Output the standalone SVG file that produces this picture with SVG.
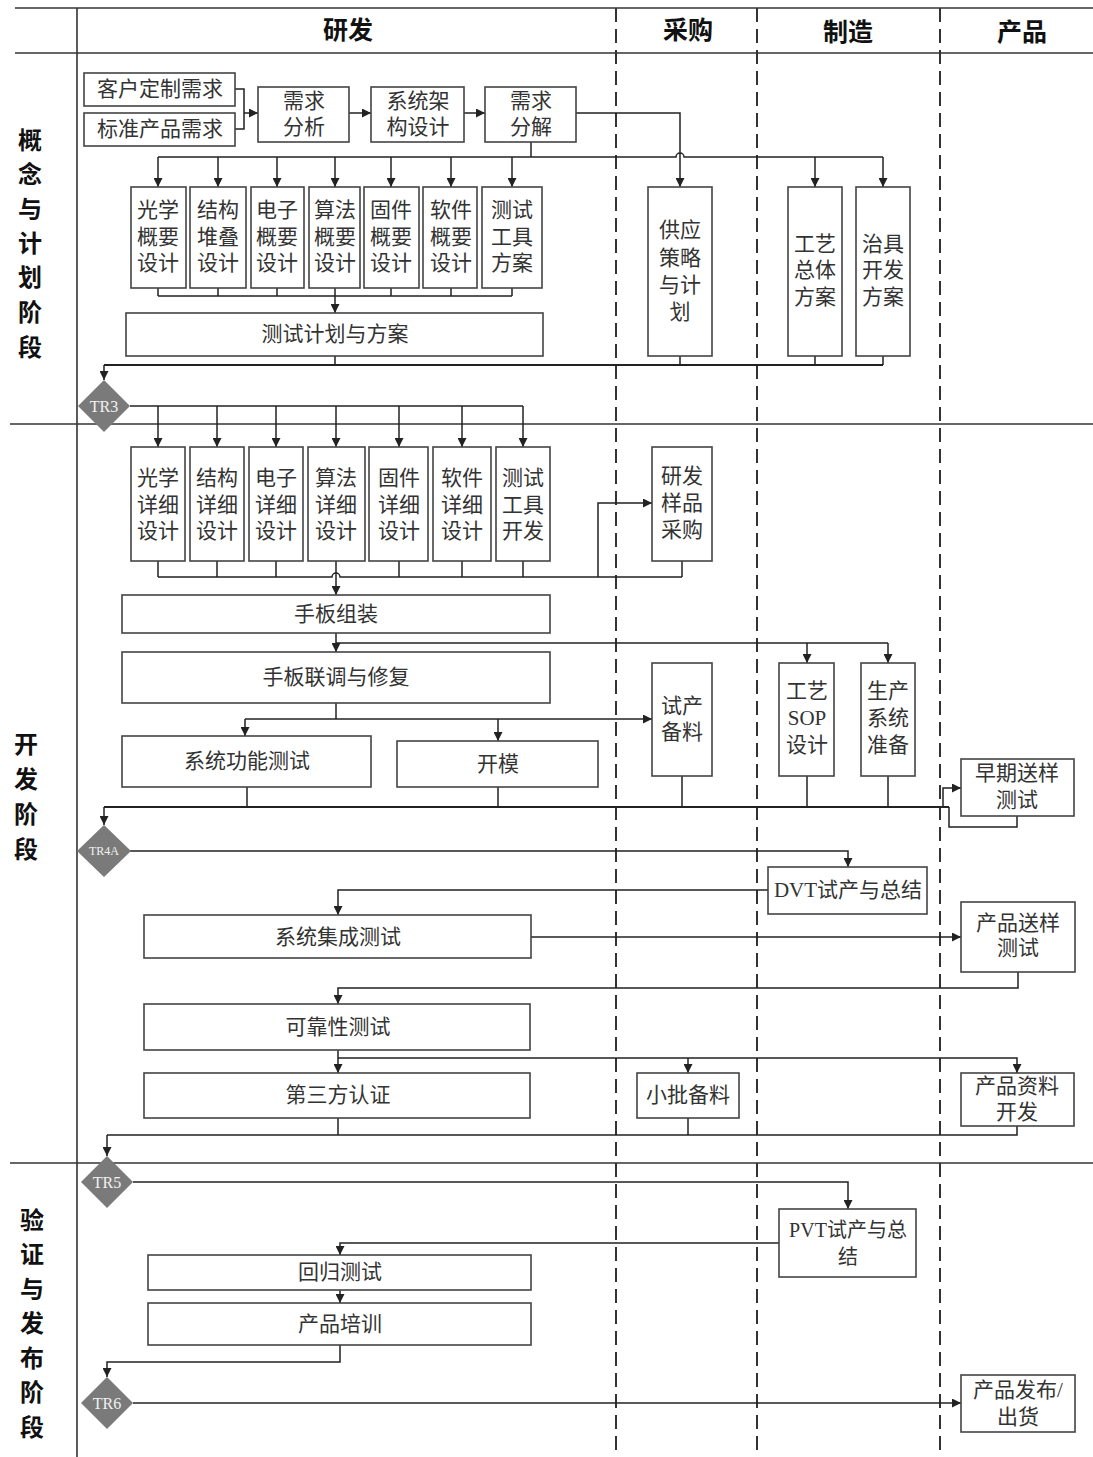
<svg xmlns="http://www.w3.org/2000/svg" width="1093" height="1457" viewBox="0 0 1093 1457">
<defs>
<marker id="ah" markerUnits="userSpaceOnUse" markerWidth="9" markerHeight="9" refX="9" refY="4.5" orient="auto">
<path d="M0,0 L9,4.5 L0,9 z" fill="#222"/>
</marker>
<style>
.box{fill:#fff;stroke:#444;stroke-width:1.6}
.t{font-family:"Liberation Serif","Noto Sans CJK SC",serif;font-size:21px;fill:#333;text-anchor:middle;dominant-baseline:central}
.h{font-family:"Noto Sans CJK SC",sans-serif;font-weight:bold;font-size:25px;fill:#111;text-anchor:middle;dominant-baseline:central}
.p{font-family:"Noto Sans CJK SC",sans-serif;font-weight:bold;font-size:24px;fill:#111;text-anchor:middle;dominant-baseline:central}
.frame{stroke:#333;stroke-width:1.6;fill:none}
.dash{stroke:#333;stroke-width:2;stroke-dasharray:14 7;fill:none}
.c{fill:none;stroke:#222;stroke-width:1.5}
.ck{fill:none;stroke:#222;stroke-width:2.2}
.a{fill:none;stroke:#222;stroke-width:1.5;marker-end:url(#ah)}
.dia{fill:#7a7a7a}
.tr{font-family:"Liberation Serif",serif;font-size:16px;fill:#f2f2f2;text-anchor:middle;dominant-baseline:central}
</style>
</defs>
<rect x="0" y="0" width="1093" height="1457" fill="#fff"/>
<g id="frame">
<line class="frame" x1="15" y1="8" x2="1093" y2="8"/>
<line class="frame" x1="15" y1="53" x2="1093" y2="53"/>
<line class="frame" x1="77" y1="8" x2="77" y2="1457"/>
<line class="frame" x1="10" y1="424" x2="1093" y2="424"/>
<line class="frame" x1="10" y1="1163" x2="1093" y2="1163"/>
<line class="dash" x1="616" y1="8" x2="616" y2="1457"/>
<line class="dash" x1="757" y1="8" x2="757" y2="1457"/>
<line class="dash" x1="940" y1="8" x2="940" y2="1457"/>
<text class="h" x="348" y="28">研发</text>
<text class="h" x="688" y="28">采购</text>
<text class="h" x="848" y="30">制造</text>
<text class="h" x="1022" y="30">产品</text>
<text class="p" x="30" y="138">概</text><text class="p" x="30" y="172">念</text><text class="p" x="30" y="207">与</text><text class="p" x="30" y="241">计</text><text class="p" x="30" y="275">划</text><text class="p" x="30" y="310">阶</text><text class="p" x="30" y="345">段</text>
<text class="p" x="26" y="742">开</text><text class="p" x="26" y="777">发</text><text class="p" x="26" y="812">阶</text><text class="p" x="26" y="847">段</text>
<text class="p" x="32" y="1218">验</text><text class="p" x="32" y="1252">证</text><text class="p" x="32" y="1287">与</text><text class="p" x="32" y="1321">发</text><text class="p" x="32" y="1356">布</text><text class="p" x="32" y="1390">阶</text><text class="p" x="32" y="1425">段</text>
</g>
<g id="connectors">
<path class="c" d="M235,89 H244 V129 H235"/>
<path class="a" d="M244,113 H258"/>
<path class="a" d="M349,113 H371"/>
<path class="a" d="M464,113 H485"/>
<path class="a" d="M576,113 H680 V187"/>
<path class="c" d="M531,142 V157"/>
<path class="c" d="M158,157 H676 A4,4 0 0 1 684,157 H883"/>
<path class="a" d="M158,157 V187"/><path class="a" d="M218,157 V187"/><path class="a" d="M277,157 V187"/><path class="a" d="M335,157 V187"/><path class="a" d="M391,157 V187"/><path class="a" d="M451,157 V187"/><path class="a" d="M512,157 V187"/><path class="a" d="M815,157 V187"/><path class="a" d="M883,157 V187"/>
<path class="c" d="M158,288 V296 M218,288 V296 M277,288 V296 M391,288 V296 M451,288 V296 M512,288 V296 M158,296 H512"/>
<path class="a" d="M335,288 V313"/>
<path class="c" d="M335,356 V365 M680,356 V365 M815,356 V365 M883,356 V365"/>
<path class="ck" d="M104,365 H883"/>
<path class="a" d="M104,365 V380"/>
<path class="c" d="M130,406 H523"/>
<path class="a" d="M158,406 V447"/><path class="a" d="M217,406 V447"/><path class="a" d="M276,406 V447"/><path class="a" d="M336,406 V447"/><path class="a" d="M399,406 V447"/><path class="a" d="M462,406 V447"/><path class="a" d="M523,406 V447"/>
<path class="c" d="M158,561 V577 M217,561 V577 M276,561 V577 M399,561 V577 M462,561 V577 M523,561 V577 M682,561 V577"/>
<path class="c" d="M158,577 H332 A4,4 0 0 1 340,577 H682"/>
<path class="a" d="M598,577 V503 H652"/>
<path class="a" d="M336,561 V595"/>
<path class="a" d="M336,633 V652"/>
<path class="c" d="M336,643 H888"/>
<path class="a" d="M807,643 V663"/><path class="a" d="M888,643 V663"/>
<path class="c" d="M336,703 V719"/>
<path class="a" d="M245,719 H652"/>
<path class="a" d="M245,719 V736"/><path class="a" d="M498,719 V741"/>
<path class="c" d="M247,787 V807 M498,787 V807 M682,776 V807 M807,776 V807 M888,776 V807"/>
<path class="ck" d="M104,807 H949"/>
<path class="a" d="M104,807 V825"/>
<path class="a" d="M943,807 V788 H961"/>
<path class="c" d="M1017,816 V827 H949 V807"/>
<path class="a" d="M130,851 H848 V867"/>
<path class="a" d="M768,890 H338 V915"/>
<path class="a" d="M531,937 H961"/>
<path class="a" d="M1018,972 V988 H338 V1004"/>
<path class="a" d="M338,1050 V1073"/>
<path class="a" d="M338,1058 H1017 V1073"/>
<path class="a" d="M688,1058 V1073"/>
<path class="c" d="M338,1118 V1135 M688,1118 V1135 M107,1135 H1017 V1126"/>
<path class="a" d="M107,1135 V1156"/>
<path class="a" d="M133,1182 H848 V1209"/>
<path class="a" d="M779,1243 H340 V1255"/>
<path class="a" d="M340,1290 V1303"/>
<path class="a" d="M340,1345 V1362 H107 V1377"/>
<path class="a" d="M133,1403 H961"/>
</g>
<g id="n-kehu"><rect class="box" x="84" y="73" width="151" height="33"/><text class="t" x="160" y="89">客户定制需求</text></g>
<g id="n-biaozhun"><rect class="box" x="84" y="113" width="151" height="33"/><text class="t" x="160" y="129">标准产品需求</text></g>
<g id="n-xqfx"><rect class="box" x="258" y="87" width="91" height="55"/><text class="t" x="304" y="101">需求</text><text class="t" x="304" y="127">分析</text></g>
<g id="n-xtjg"><rect class="box" x="371" y="87" width="93" height="55"/><text class="t" x="418" y="101">系统架</text><text class="t" x="418" y="127">构设计</text></g>
<g id="n-xqfj"><rect class="box" x="485" y="87" width="91" height="55"/><text class="t" x="531" y="101">需求</text><text class="t" x="531" y="127">分解</text></g>
<g id="n-gx1"><rect class="box" x="131" y="187" width="55" height="101"/><text class="t" x="158" y="210">光学</text><text class="t" x="158" y="237">概要</text><text class="t" x="158" y="263">设计</text></g>
<g id="n-jg1"><rect class="box" x="190" y="187" width="56" height="101"/><text class="t" x="218" y="210">结构</text><text class="t" x="218" y="237">堆叠</text><text class="t" x="218" y="263">设计</text></g>
<g id="n-dz1"><rect class="box" x="251" y="187" width="53" height="101"/><text class="t" x="277" y="210">电子</text><text class="t" x="277" y="237">概要</text><text class="t" x="277" y="263">设计</text></g>
<g id="n-sf1"><rect class="box" x="309" y="187" width="51" height="101"/><text class="t" x="335" y="210">算法</text><text class="t" x="335" y="237">概要</text><text class="t" x="335" y="263">设计</text></g>
<g id="n-gj1"><rect class="box" x="364" y="187" width="55" height="101"/><text class="t" x="391" y="210">固件</text><text class="t" x="391" y="237">概要</text><text class="t" x="391" y="263">设计</text></g>
<g id="n-rj1"><rect class="box" x="423" y="187" width="54" height="101"/><text class="t" x="451" y="210">软件</text><text class="t" x="451" y="237">概要</text><text class="t" x="451" y="263">设计</text></g>
<g id="n-cs1"><rect class="box" x="482" y="187" width="60" height="101"/><text class="t" x="512" y="210">测试</text><text class="t" x="512" y="237">工具</text><text class="t" x="512" y="263">方案</text></g>
<g id="n-csjh"><rect class="box" x="126" y="313" width="417" height="43"/><text class="t" x="335" y="334">测试计划与方案</text></g>
<g id="n-gy"><rect class="box" x="648" y="187" width="64" height="169"/><text class="t" x="680" y="230">供应</text><text class="t" x="680" y="258">策略</text><text class="t" x="680" y="285">与计</text><text class="t" x="680" y="312">划</text></g>
<g id="n-gyzt"><rect class="box" x="788" y="187" width="54" height="169"/><text class="t" x="815" y="244">工艺</text><text class="t" x="815" y="270">总体</text><text class="t" x="815" y="297">方案</text></g>
<g id="n-zj"><rect class="box" x="856" y="187" width="54" height="169"/><text class="t" x="883" y="244">治具</text><text class="t" x="883" y="270">开发</text><text class="t" x="883" y="297">方案</text></g>
<g id="n-tr3"><polygon class="dia" points="104,380 130,406 104,432 78,406"/><text class="tr" x="104" y="406">TR3</text></g>
<g id="n-gx2"><rect class="box" x="131" y="447" width="54" height="114"/><text class="t" x="158" y="478">光学</text><text class="t" x="158" y="505">详细</text><text class="t" x="158" y="531">设计</text></g>
<g id="n-jg2"><rect class="box" x="190" y="447" width="54" height="114"/><text class="t" x="217" y="478">结构</text><text class="t" x="217" y="505">详细</text><text class="t" x="217" y="531">设计</text></g>
<g id="n-dz2"><rect class="box" x="249" y="447" width="54" height="114"/><text class="t" x="276" y="478">电子</text><text class="t" x="276" y="505">详细</text><text class="t" x="276" y="531">设计</text></g>
<g id="n-sf2"><rect class="box" x="308" y="447" width="57" height="114"/><text class="t" x="336" y="478">算法</text><text class="t" x="336" y="505">详细</text><text class="t" x="336" y="531">设计</text></g>
<g id="n-gj2"><rect class="box" x="369" y="447" width="59" height="114"/><text class="t" x="399" y="478">固件</text><text class="t" x="399" y="505">详细</text><text class="t" x="399" y="531">设计</text></g>
<g id="n-rj2"><rect class="box" x="433" y="447" width="58" height="114"/><text class="t" x="462" y="478">软件</text><text class="t" x="462" y="505">详细</text><text class="t" x="462" y="531">设计</text></g>
<g id="n-cs2"><rect class="box" x="496" y="447" width="54" height="114"/><text class="t" x="523" y="478">测试</text><text class="t" x="523" y="505">工具</text><text class="t" x="523" y="531">开发</text></g>
<g id="n-yfyp"><rect class="box" x="652" y="447" width="60" height="114"/><text class="t" x="682" y="476">研发</text><text class="t" x="682" y="503">样品</text><text class="t" x="682" y="530">采购</text></g>
<g id="n-sbzz"><rect class="box" x="122" y="595" width="428" height="38"/><text class="t" x="336" y="614">手板组装</text></g>
<g id="n-sbld"><rect class="box" x="122" y="652" width="428" height="51"/><text class="t" x="336" y="677">手板联调与修复</text></g>
<g id="n-xtgn"><rect class="box" x="122" y="736" width="249" height="51"/><text class="t" x="247" y="761">系统功能测试</text></g>
<g id="n-km"><rect class="box" x="397" y="741" width="201" height="46"/><text class="t" x="498" y="764">开模</text></g>
<g id="n-scbl"><rect class="box" x="652" y="663" width="60" height="113"/><text class="t" x="682" y="706">试产</text><text class="t" x="682" y="732">备料</text></g>
<g id="n-sop"><rect class="box" x="779" y="663" width="55" height="113"/><text class="t" x="807" y="691">工艺</text><text class="t" x="807" y="718">SOP</text><text class="t" x="807" y="745">设计</text></g>
<g id="n-scxt"><rect class="box" x="861" y="663" width="54" height="113"/><text class="t" x="888" y="691">生产</text><text class="t" x="888" y="718">系统</text><text class="t" x="888" y="745">准备</text></g>
<g id="n-zqsy"><rect class="box" x="961" y="759" width="113" height="57"/><text class="t" x="1017" y="773">早期送样</text><text class="t" x="1017" y="800">测试</text></g>
<g id="n-tr4a"><polygon class="dia" points="104,825 131,851 104,877 77,851"/><text class="tr" x="104" y="851" style="font-size:12px">TR4A</text></g>
<g id="n-dvt"><rect class="box" x="768" y="867" width="159" height="47"/><text class="t" x="848" y="890">DVT试产与总结</text></g>
<g id="n-xtjc"><rect class="box" x="144" y="915" width="387" height="43"/><text class="t" x="338" y="937">系统集成测试</text></g>
<g id="n-cpsy"><rect class="box" x="961" y="902" width="114" height="70"/><text class="t" x="1018" y="923">产品送样</text><text class="t" x="1018" y="948">测试</text></g>
<g id="n-kkx"><rect class="box" x="144" y="1004" width="386" height="46"/><text class="t" x="338" y="1027">可靠性测试</text></g>
<g id="n-dsf"><rect class="box" x="144" y="1073" width="386" height="45"/><text class="t" x="338" y="1095">第三方认证</text></g>
<g id="n-xpbl"><rect class="box" x="637" y="1073" width="102" height="45"/><text class="t" x="688" y="1095">小批备料</text></g>
<g id="n-cpzl"><rect class="box" x="961" y="1073" width="113" height="53"/><text class="t" x="1017" y="1086">产品资料</text><text class="t" x="1017" y="1112">开发</text></g>
<g id="n-tr5"><polygon class="dia" points="107,1156 133,1182 107,1208 81,1182"/><text class="tr" x="107" y="1182">TR5</text></g>
<g id="n-pvt"><rect class="box" x="779" y="1209" width="137" height="68"/><text class="t" x="848" y="1230" style="font-size:20px">PVT试产与总</text><text class="t" x="848" y="1257" style="font-size:20px">结</text></g>
<g id="n-hgcs"><rect class="box" x="148" y="1255" width="383" height="35"/><text class="t" x="340" y="1272">回归测试</text></g>
<g id="n-cppx"><rect class="box" x="148" y="1303" width="383" height="42"/><text class="t" x="340" y="1324">产品培训</text></g>
<g id="n-tr6"><polygon class="dia" points="107,1377 133,1403 107,1429 81,1403"/><text class="tr" x="107" y="1403">TR6</text></g>
<g id="n-cpfb"><rect class="box" x="961" y="1375" width="114" height="57"/><text class="t" x="1018" y="1390">产品发布/</text><text class="t" x="1018" y="1417">出货</text></g>
</svg>
